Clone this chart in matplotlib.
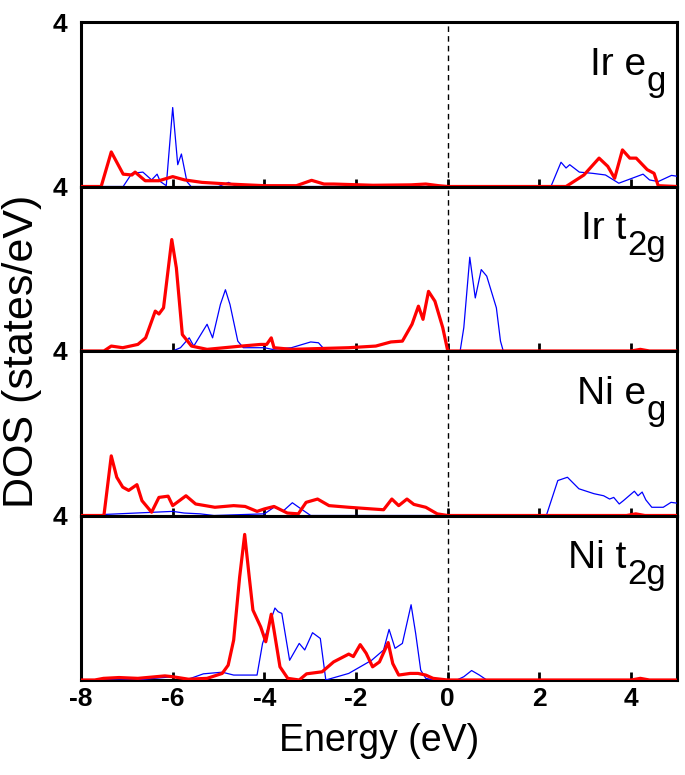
import numpy as np
import matplotlib
matplotlib.use("Agg")
import matplotlib.pyplot as plt
from matplotlib.transforms import offset_copy

plt.rcParams['font.family'] = ['Liberation Sans', 'DejaVu Sans']

# ---- data (energy in eV, DOS in states/eV) ----
label_main = ['Ir e', 'Ir t', 'Ni e', 'Ni t']
label_sub = ['g', '2g', 'g', '2g']

ir_eg_red_e = [-8, -7.56, -7.34, -7.08, -6.89, -6.82, -6.6, -6.3, -6.0, -5.74, -5.36, -4.78, -4.0,
               -3.3, -2.97, -2.7, -2.49, -1.63, -0.8, -0.48, -0.2, 0, 2.58, 2.97, 3.3, 3.49, 3.64,
               3.81, 3.97, 4.11, 4.35, 4.5, 4.59, 5]
ir_eg_red_v = [0, 0, 0.84, 0.30, 0.28, 0.35, 0.14, 0.14, 0.24, 0.16, 0.10, 0.06, 0.02,
               0.02, 0.15, 0.06, 0.06, 0.03, 0.04, 0.06, 0.02, 0, 0, 0.28, 0.69, 0.49, 0.20,
               0.89, 0.69, 0.69, 0.41, 0.32, 0.02, 0]
ir_eg_blue_e = [-8, -7.08, -6.89, -6.65, -6.46, -6.34, -6.27, -6.14, -6.0, -5.89, -5.81, -5.69,
                -5.6, -5.0, -4.78, -4.6, 0.3, 0.48, 0.65, 2.25, 2.47, 2.58, 2.66, 2.87, 3.16,
                3.44, 3.73, 4.02, 4.26, 4.4, 4.59, 4.88, 5]
ir_eg_blue_v = [0, 0, 0.32, 0.35, 0.16, 0.30, 0.12, 0.02, 1.92, 0.53, 0.79, 0.12,
                0, 0, 0.10, 0, 0, 0.02, 0, 0, 0.59, 0.45, 0.53, 0.35, 0.32,
                0.28, 0.08, 0.20, 0.30, 0.16, 0.12, 0.27, 0.25]

ir_t2g_red_e = [-8, -7.5, -7.34, -7.09, -6.76, -6.59, -6.38, -6.3, -6.2, -6.02, -5.92, -5.79,
                -5.59, -5.25, -4.5, -4.08, -3.95, -3.85, -3.79, -3.41, -2.16, -1.57, -1.24,
                -0.99, -0.78, -0.64, -0.54, -0.42, -0.28, -0.11, 0, 4.0, 4.2, 4.4, 5]
ir_t2g_red_v = [0, 0, 0.12, 0.08, 0.16, 0.32, 0.97, 0.90, 1.05, 2.71, 2.02, 0.40,
                0.12, 0.04, 0.12, 0.16, 0.16, 0.32, 0.08, 0.04, 0.08, 0.12, 0.22,
                0.24, 0.65, 1.09, 0.77, 1.45, 1.21, 0.57, 0, 0, 0.04, 0, 0]
ir_t2g_blue_e = [-8, -6.0, -5.83, -5.64, -5.54, -5.25, -5.13, -4.96, -4.85, -4.75, -4.58,
                 -4.46, -4.0, -3.83, -3.41, -2.99, -2.82, -2.66, 0.27, 0.35, 0.48, 0.6,
                 0.73, 0.85, 1.06, 1.15, 1.21, 5]
ir_t2g_blue_v = [0, 0, 0.08, 0.32, 0.12, 0.65, 0.32, 1.13, 1.49, 1.13, 0.24,
                 0.08, 0.08, 0.04, 0.08, 0.22, 0.20, 0, 0, 0.57, 2.28, 1.29,
                 1.98, 1.82, 1.05, 0.24, 0, 0]

ni_eg_red_e = [-8, -7.5, -7.34, -7.22, -7.09, -6.96, -6.78, -6.67, -6.46, -6.3, -6.1, -6.0,
               -5.71, -5.5, -5.08, -4.67, -4.42, -4.16, -4.0, -3.79, -3.5, -3.26, -3.09, -2.84,
               -2.59, -2.16, -1.66, -1.4, -1.22, -1.07, -0.89, -0.74, -0.48, -0.23, 0,
               3.9, 4.1, 4.3, 5]
ni_eg_red_v = [0, 0, 1.45, 0.93, 0.69, 0.61, 0.75, 0.36, 0.08, 0.44, 0.47, 0.24,
               0.48, 0.28, 0.20, 0.24, 0.22, 0.10, 0.16, 0.22, 0.06, 0.04, 0.32, 0.40,
               0.24, 0.20, 0.16, 0.14, 0.40, 0.24, 0.40, 0.27, 0.20, 0.04, 0,
               0, 0.04, 0, 0]
ni_eg_blue_e = [-8, -6.0, -5.75, -5.4, -5.1, -4.0, -3.79, -3.58, -3.39, -3.2, -2.99,
                2.15, 2.4, 2.61, 2.86, 3.19, 3.4, 3.53, 3.62, 3.74, 3.83, 4.07, 4.15,
                4.24, 4.32, 4.45, 4.7, 4.87, 5]
ni_eg_blue_v = [0, 0.10, 0.06, 0.04, 0, 0.04, 0.20, 0.12, 0.31, 0.16, 0,
                0, 0.85, 0.93, 0.65, 0.53, 0.48, 0.40, 0.44, 0.28, 0.36, 0.59, 0.48,
                0.57, 0.38, 0.20, 0.20, 0.32, 0.30]

ni_t2g_red_e = [-8, -7.7, -7.51, -7.17, -6.76, -6.17, -6.0, -5.66, -5.25, -4.92, -4.79, -4.67,
                -4.54, -4.43, -4.33, -4.25, -4.08, -3.97, -3.85, -3.79, -3.66, -3.49, -3.24,
                -3.08, -2.74, -2.49, -2.16, -2.06, -1.91, -1.78, -1.64, -1.49, -1.3, -1.2,
                -1.07, -0.82, -0.65, -0.48, -0.32, 0, 4.0, 4.2, 4.4, 5]
ni_t2g_red_v = [0, 0, 0.04, 0.06, 0.04, 0.10, 0.08, 0.02, 0.04, 0.16, 0.36, 0.97,
                2.50, 3.54, 2.50, 1.70, 1.29, 0.93, 1.60, 1.21, 0.32, 0.04, 0,
                0.15, 0.20, 0.44, 0.63, 0.57, 0.86, 0.65, 0.32, 0.44, 0.91, 0.40,
                0.12, 0.16, 0.16, 0.12, 0.04, 0, 0, 0.04, 0, 0]
ni_t2g_blue_e = [-8, -6.8, -6.0, -5.66, -5.33, -4.92, -4.67, -4.16, -4.04, -3.91, -3.77,
                 -3.7, -3.62, -3.45, -3.24, -3.12, -2.95, -2.78, -2.66, -2.16, -1.66, -1.4,
                 -1.28, -1.15, -0.99, -0.8, -0.7, -0.59, -0.48, -0.3, 0.2, 0.35, 0.52,
                 0.69, 0.85, 5]
ni_t2g_blue_v = [0, 0, 0.08, 0.02, 0.15, 0.19, 0.12, 0.12, 0.89, 1.29, 1.75,
                 1.66, 1.62, 0.48, 0.89, 0.73, 1.15, 1.01, 0, 0.16, 0.48, 0.73,
                 1.23, 0.77, 0.89, 1.83, 1.13, 0.24, 0.04, 0, 0, 0.08, 0.23,
                 0.12, 0, 0]

red_series = [(ir_eg_red_e, ir_eg_red_v), (ir_t2g_red_e, ir_t2g_red_v),
              (ni_eg_red_e, ni_eg_red_v), (ni_t2g_red_e, ni_t2g_red_v)]
blue_series = [(ir_eg_blue_e, ir_eg_blue_v), (ir_t2g_blue_e, ir_t2g_blue_v),
               (ni_eg_blue_e, ni_eg_blue_v), (ni_t2g_blue_e, ni_t2g_blue_v)]

x_ticks = [-8, -6, -4, -2, 0, 2, 4]

fig = plt.figure(figsize=(6.85, 7.75), dpi=100)
renderer = fig.canvas.get_renderer()
left, right = 81 / 685, 677 / 685
top, bottom = 1 - 22 / 775, 1 - 680 / 775
h = (top - bottom) / 4

axes = []
for i in range(4):
    ax = fig.add_axes([left, top - (i + 1) * h, right - left, h])
    axes.append(ax)
    # thin blue first, thick red on top
    ax.plot(blue_series[i][0], blue_series[i][1], color='#0000ff', lw=0.9, zorder=3)
    ax.plot(red_series[i][0], red_series[i][1], color='#ff0000', lw=2.3, zorder=4)
    ax.axvline(0, color='black', lw=1.0, ls=(0, (4, 3)), zorder=2)
    ax.set_xlim(-8, 5)
    ax.set_ylim(0, 4)
    ax.set_yticks([4])
    ax.set_yticklabels(['4'], fontsize=19, fontweight='bold')
    ax.tick_params(axis='y', length=0, pad=10)
    ax.set_xticks(x_ticks)
    ax.tick_params(axis='x', direction='in', length=6, width=2, top=False)
    if i < 3:
        ax.set_xticklabels([])
    else:
        ax.set_xticklabels(['%d' % t for t in x_ticks], fontsize=19, fontweight='bold')
        ax.tick_params(axis='x', pad=5)
    for s in ax.spines.values():
        s.set_linewidth(2.2)
        s.set_zorder(1)

    # panel label: main text plus a large, low subscript
    sub = ax.text(0.982, 0.64, label_sub[i], transform=ax.transAxes, ha='right',
                  va='center', fontsize=25)
    sub_w = sub.get_window_extent(renderer).width
    tr = offset_copy(ax.transAxes, fig=fig, x=-(sub_w + 1) * 72 / fig.dpi, y=0,
                     units='points')
    ax.text(0.982, 0.74, label_main[i], transform=tr, ha='right', va='center',
            fontsize=28)

axes[-1].set_xlabel('Energy (eV)', fontsize=27, labelpad=9)
fig.text(0.032, (top + bottom) / 2, 'DOS (states/eV)', rotation=90, ha='center',
         va='center', fontsize=31)

fig.savefig('out.png', dpi=100)
